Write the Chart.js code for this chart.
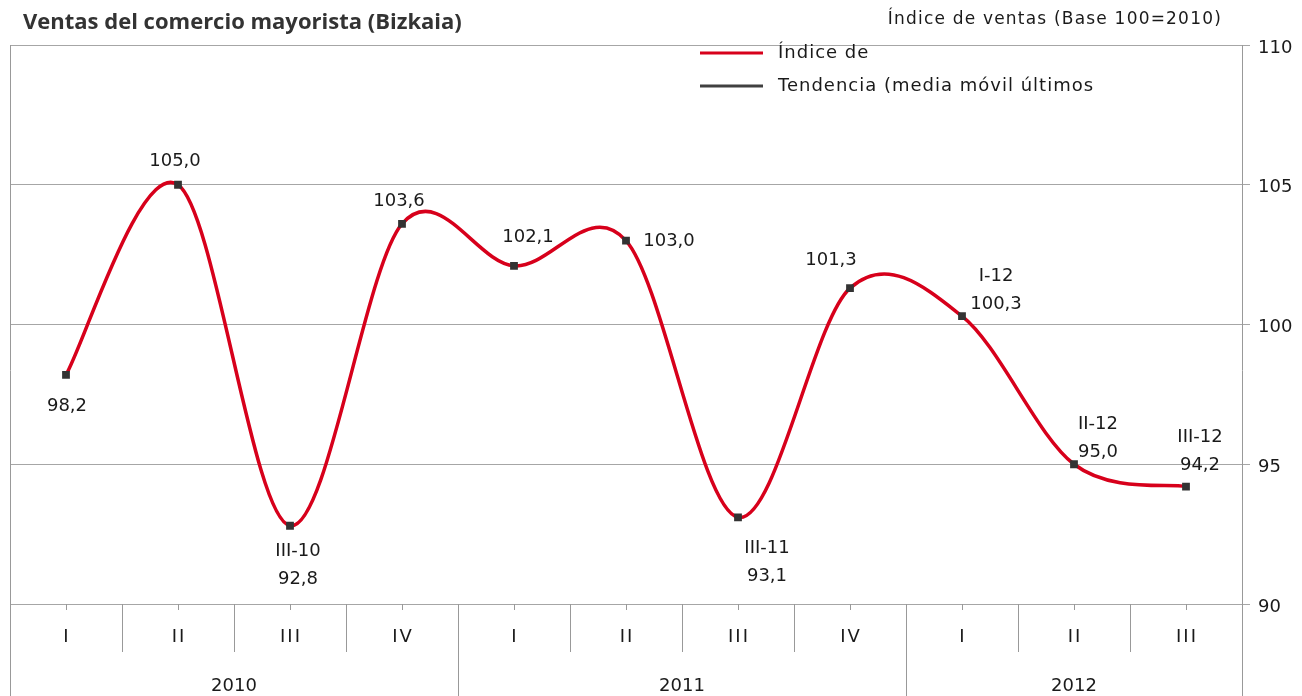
<!DOCTYPE html>
<html>
<head>
<meta charset="utf-8">
<script src="https://cdn.jsdelivr.net/npm/chart.js@4.4.0/dist/chart.umd.min.js"></script>
<style>
html, body { margin: 0; padding: 0; background: #fff; }
</style>
</head>
<body>
<canvas id="chart-0" width="1302" height="696"></canvas>
<script>
// data
var quarters = ['I', 'II', 'III', 'IV', 'I', 'II', 'III', 'IV', 'I', 'II', 'III'];
var years = ['2010', '2011', '2012'];
var quartersPerYear = [4, 4, 3];
var indexValues = [98.2, 105.0, 92.8, 103.6, 102.1, 103.0, 93.1, 101.3, 100.3, 95.0, 94.2];
var trendValues = [];
var pointTags = ['', '', 'III-10', '', '', '', 'III-11', '', 'I-12', 'II-12', 'III-12'];
var yTicks = [90, 95, 100, 105, 110];
var seriesNames = ['Índice de', 'Tendencia (media móvil últimos'];
var chartTitle = 'Ventas del comercio mayorista (Bizkaia)';
var axisTitle = 'Índice de ventas (Base 100=2010)';

// where each value label sits, relative to its point (dx, dy)
var labelPlacement = [[1, 32], [-3, -23], [8, 54], [-3, -23], [14, -28], [43, 1],
                      [29, 59], [-19, -28], [34, -12], [24, -12], [14, -21]];

var font = '"DejaVu Sans", sans-serif';
var gridColor = '#a6a6a6';
var textColor = '#1a1a1a';

function $each(arr, fn) {
    for (var i = 0; i < arr.length; i++) fn(arr[i], i);
}

// office-style smoothing: catmull-rom control points (1/6 of neighbour chord)
var smoothLine = {
    id: 'smoothLine',
    beforeDatasetDraw: function (chart, args) {
        if (args.index !== 0) return;
        var line = args.meta.dataset,
            pts = args.meta.data;
        line.updateControlPoints(chart.chartArea);
        $each(pts, function (pt, i) {
            var prev = pts[i - 1] || pt,
                next = pts[i + 1] || pt,
                dx = (next.x - prev.x) / 6,
                dy = (next.y - prev.y) / 6;
            pt.cp1x = pt.x - dx;
            pt.cp1y = pt.y - dy;
            pt.cp2x = pt.x + dx;
            pt.cp2y = pt.y + dy;
        });
    }
};

var decorations = {
    id: 'decorations',
    afterDatasetsDraw: function (chart) {
        var ctx = chart.ctx,
            meta = chart.getDatasetMeta(0);
        ctx.save();
        ctx.font = '18px ' + font;
        ctx.fillStyle = textColor;
        ctx.textAlign = 'center';
        ctx.textBaseline = 'middle';
        $each(meta.data, function (pt, i) {
            var p = labelPlacement[i],
                x = pt.x + p[0],
                y = pt.y + p[1];
            ctx.fillText(indexValues[i].toFixed(1).replace('.', ','), x, y);
            if (pointTags[i]) {
                ctx.fillText(pointTags[i], x, y - 28);
            }
        });
        ctx.restore();
    },
    afterDraw: function (chart) {
        var ctx = chart.ctx,
            area = chart.chartArea,
            xs = chart.scales.x,
            H = chart.height;
        ctx.save();
        ctx.strokeStyle = '#999';
        ctx.lineWidth = 1;

        // outer verticals
        ctx.beginPath();
        ctx.moveTo(area.left + 0.5, area.top);
        ctx.lineTo(area.left + 0.5, H);
        ctx.moveTo(area.right + 0.5, area.top);
        ctx.lineTo(area.right + 0.5, H);
        ctx.stroke();

        // quarter separators and year separators
        var yearEnds = [], acc = 0;
        $each(quartersPerYear, function (n) { acc += n; yearEnds.push(acc); });
        ctx.beginPath();
        for (var i = 1; i < quarters.length; i++) {
            var bx = Math.round((xs.getPixelForValue(i - 1) + xs.getPixelForValue(i)) / 2) + 0.5;
            ctx.moveTo(bx, area.bottom);
            ctx.lineTo(bx, yearEnds.indexOf(i) >= 0 ? H : area.bottom + 48);
        }
        for (var j = 0; j < quarters.length; j++) {
            var cx = Math.round(xs.getPixelForValue(j)) + 0.5;
            ctx.moveTo(cx, area.bottom);
            ctx.lineTo(cx, area.bottom + 6);
        }
        ctx.stroke();

        ctx.fillStyle = textColor;
        ctx.font = '18px ' + font;
        ctx.textAlign = 'center';
        ctx.textBaseline = 'middle';
        ctx.letterSpacing = '2px';
        $each(quarters, function (q, k) {
            ctx.fillText(q, xs.getPixelForValue(k) + 1, area.bottom + 33);
        });
        ctx.letterSpacing = '0px';
        var start = 0,
            step = xs.getPixelForValue(1) - xs.getPixelForValue(0);
        $each(years, function (y, k) {
            var a = xs.getPixelForValue(start) - step / 2,
                b = xs.getPixelForValue(start + quartersPerYear[k] - 1) + step / 2;
            ctx.fillText(y, (a + b) / 2, area.bottom + 82);
            start += quartersPerYear[k];
        });

        // titles
        ctx.textAlign = 'left';
        ctx.font = 'bold 22px "Open Sans", sans-serif';
        ctx.fillStyle = '#333';
        ctx.fillText(chartTitle, 23, 23);
        ctx.font = '17px ' + font;
        ctx.fillStyle = textColor;
        ctx.textAlign = 'right';
        ctx.letterSpacing = '1.2px';
        ctx.fillText(axisTitle, 1222, 20);
        ctx.letterSpacing = '0px';

        // legend
        ctx.textAlign = 'left';
        ctx.font = '18px ' + font;
        ctx.letterSpacing = '1px';
        $each(chart.data.datasets, function (ds, k) {
            var ly = 53 + k * 33;
            ctx.strokeStyle = ds.borderColor;
            ctx.lineWidth = 3;
            ctx.beginPath();
            ctx.moveTo(700, ly);
            ctx.lineTo(763, ly);
            ctx.stroke();
            ctx.fillText(ds.label, 778, ly);
        });
        ctx.restore();
    }
};

new Chart('chart-0', {
    type: 'line',
    data: {
        labels: quarters,
        datasets: [{
            label: seriesNames[0],
            data: indexValues,
            borderColor: '#d7001b',
            borderWidth: 3.5,
            tension: 0.4,
            pointStyle: 'rect',
            pointRadius: 5.5,
            pointBackgroundColor: '#333',
            pointBorderColor: '#333',
            pointBorderWidth: 0
        }, {
            label: seriesNames[1],
            data: trendValues,
            borderColor: '#404040',
            borderWidth: 3
        }]
    },
    plugins: [smoothLine, decorations],
    options: {
        responsive: false,
        animation: false,
        devicePixelRatio: 1,
        layout: { padding: { left: 10, top: 45, right: 0, bottom: 0 } },
        plugins: {
            legend: { display: false },
            tooltip: { enabled: false }
        },
        scales: {
            x: {
                offset: true,
                grid: { display: false },
                border: { display: false },
                ticks: { display: false },
                afterFit: function (scale) { scale.height = 92; }
            },
            y: {
                position: 'right',
                min: yTicks[0],
                max: yTicks[yTicks.length - 1],
                afterBuildTicks: function (scale) {
                    scale.ticks = yTicks.map(function (v) { return { value: v }; });
                },
                grid: { color: gridColor, tickLength: 8, lineWidth: 1 },
                border: { display: false },
                ticks: {
                    padding: 8,
                    labelOffset: 3,
                    color: textColor,
                    font: { family: 'DejaVu Sans', size: 18 }
                },
                afterFit: function (scale) { scale.width = 60; }
            }
        }
    }
});
</script>
</body>
</html>
